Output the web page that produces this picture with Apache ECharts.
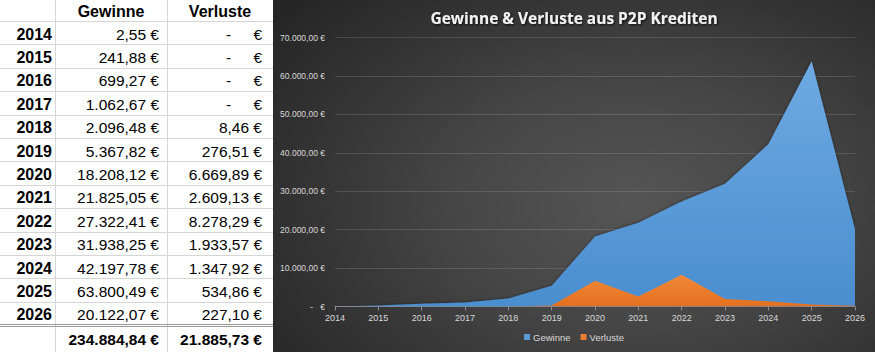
<!DOCTYPE html>
<html>
<head>
<meta charset="utf-8">
<script src="https://cdn.jsdelivr.net/npm/echarts@6/dist/echarts.min.js"></script>
<style>
html,body{margin:0;padding:0;width:875px;height:352px;overflow:hidden;background:#fff;}
#table{position:absolute;left:0;top:0;width:273px;height:352px;background:#fff;font-family:"Liberation Sans",Arial,sans-serif;color:#000;}
#table div{position:absolute;white-space:nowrap;}
#chart{position:absolute;left:273px;top:0;width:602px;height:352px;
background:radial-gradient(ellipse 75% 85% at 60% 58%, #555 0%, #464646 40%, #343434 72%, #262626 100%);}
</style>
</head>
<body>
<div id="table"></div>
<div id="chart"></div>
<script>
const years = ['2014','2015','2016','2017','2018','2019','2020','2021','2022','2023','2024','2025','2026'];
const gewinne = [2.55, 241.88, 699.27, 1062.67, 2096.48, 5367.82, 18208.12, 21825.05, 27322.41, 31938.25, 42197.78, 63800.49, 20122.07];
const verluste = [0, 0, 0, 0, 8.46, 276.51, 6669.89, 2609.13, 8278.29, 1933.57, 1347.92, 534.86, 227.10];
const totals = [234884.84, 21885.73];
const headers = ['Gewinne', 'Verluste'];
const chartTitle = 'Gewinne & Verluste aus P2P Krediten';
const yMax = 70000, yStep = 10000;

function fmt(v) {
  const s = v.toFixed(2).split('.');
  const intPart = s[0].replace(/\B(?=(\d{3})+(?!\d))/g, '.');
  return intPart + ',' + s[1];
}

// ---------- table ----------
const T = document.getElementById('table');
const W = 273;
const headerH = 21, rowH = 23.4;
const colX = [0, 55, 167, 273];
const FS = '15.5px';
function add(html, style) {
  const d = document.createElement('div');
  d.textContent = html;
  Object.assign(d.style, style);
  T.appendChild(d);
  return d;
}
// vertical lines
[55, 167].forEach(x => add('', {left: x + 'px', top: '0px', width: '1px', height: '352px', background: '#d6d6d6'}));
// horizontal lines
for (let i = 0; i <= 12; i++) {
  const y = Math.round(headerH + i * rowH);
  add('', {left: '0px', top: y + 'px', width: W + 'px', height: '1px', background: '#d6d6d6'});
}
const yDouble = Math.round(headerH + 13 * rowH);
add('', {left: '0px', top: (yDouble - 1) + 'px', width: W + 'px', height: '1px', background: '#9a9a9a'});
add('', {left: '0px', top: (yDouble + 1) + 'px', width: W + 'px', height: '1px', background: '#9a9a9a'});

// headers
headers.forEach((h, i) => {
  add(h, {left: colX[i + 1] + 'px', width: (colX[i + 2] - colX[i + 1]) + 'px', textAlign: 'center', top: '1px', fontWeight: 'bold', fontSize: '16px', lineHeight: '21px'});
});
// rows
years.forEach((y, i) => {
  const top = headerH + i * rowH + 1.5;
  add(y, {right: (W - 52) + 'px', top: top + 'px', fontWeight: 'bold', fontSize: '16px', lineHeight: rowH + 'px'});
  add(fmt(gewinne[i]) + ' €', {right: (W - 159) + 'px', top: top + 'px', fontSize: FS, lineHeight: rowH + 'px'});
  if (verluste[i] === 0) {
    add('-', {left: '226px', top: top + 'px', fontSize: FS, lineHeight: rowH + 'px'});
    add('€', {right: (W - 262) + 'px', top: top + 'px', fontSize: FS, lineHeight: rowH + 'px'});
  } else {
    add(fmt(verluste[i]) + ' €', {right: (W - 262) + 'px', top: top + 'px', fontSize: FS, lineHeight: rowH + 'px'});
  }
});
{
  const top = yDouble + 3;
  add(fmt(totals[0]) + ' €', {right: (W - 159) + 'px', top: top + 'px', fontWeight: 'bold', fontSize: FS, lineHeight: '24px'});
  add(fmt(totals[1]) + ' €', {right: (W - 262) + 'px', top: top + 'px', fontWeight: 'bold', fontSize: FS, lineHeight: '24px'});
}

// ---------- chart ----------
const chart = echarts.init(document.getElementById('chart'), null, {renderer: 'svg'});
const labelColor = '#d9d9d9';
chart.setOption({
  backgroundColor: 'transparent',
  animation: false,
  title: {
    text: chartTitle,
    left: 'center',
    top: 5,
    textStyle: {
      color: '#f2f2f2', fontSize: 15.5, fontWeight: 'bold', fontFamily: '"Open Sans", sans-serif',
      textShadowColor: 'rgba(0,0,0,0.8)', textShadowBlur: 2, textShadowOffsetX: 1, textShadowOffsetY: 1
    }
  },
  legend: {
    data: headers,
    bottom: 5,
    left: 'center',
    icon: 'rect',
    itemWidth: 6, itemHeight: 6, itemGap: 10,
    textStyle: {color: labelColor, fontSize: 9.5, fontFamily: '"Liberation Sans", sans-serif', padding: [0, 0, 0, -2]}
  },
  grid: {left: 62, right: 20, top: 37.5, bottom: 45.5},
  xAxis: {
    type: 'category',
    data: years,
    boundaryGap: false,
    axisLine: {lineStyle: {color: '#8c8c8c', width: 1}},
    axisTick: {show: true, length: 4, lineStyle: {color: '#8c8c8c'}},
    axisLabel: {color: labelColor, fontSize: 9, margin: 7, fontFamily: '"Liberation Sans", sans-serif'},
    splitLine: {show: false}
  },
  yAxis: {
    type: 'value',
    min: 0, max: yMax, interval: yStep,
    axisLine: {show: false},
    axisTick: {show: false},
    axisLabel: {
      color: labelColor, fontSize: 8.5, margin: 10, fontFamily: '"Liberation Sans", sans-serif',
      formatter: v => v === 0 ? '-   €' : fmt(v) + ' €'
    },
    splitLine: {lineStyle: {color: 'rgba(255,255,255,0.13)', width: 1}}
  },
  series: [
    {
      name: headers[0],
      type: 'line',
      data: gewinne,
      symbol: 'none',
      lineStyle: {width: 0},
      itemStyle: {color: '#5b9bd5'},
      areaStyle: {
        opacity: 1,
        color: new echarts.graphic.LinearGradient(0, 0, 0, 1, [
          {offset: 0, color: '#6eaae2'},
          {offset: 1, color: '#4a8ed0'}
        ]),
        shadowColor: 'rgba(0,0,0,0.55)', shadowBlur: 3, shadowOffsetX: 0, shadowOffsetY: 0
      },
      z: 2
    },
    {
      name: headers[1],
      type: 'line',
      data: verluste,
      symbol: 'none',
      lineStyle: {width: 0},
      itemStyle: {color: '#ed7d31'},
      areaStyle: {
        opacity: 1,
        color: new echarts.graphic.LinearGradient(0, 0, 0, 1, [
          {offset: 0, color: '#f2893a'},
          {offset: 1, color: '#e2701f'}
        ])
      },
      z: 3
    }
  ]
});
</script>
</body>
</html>
